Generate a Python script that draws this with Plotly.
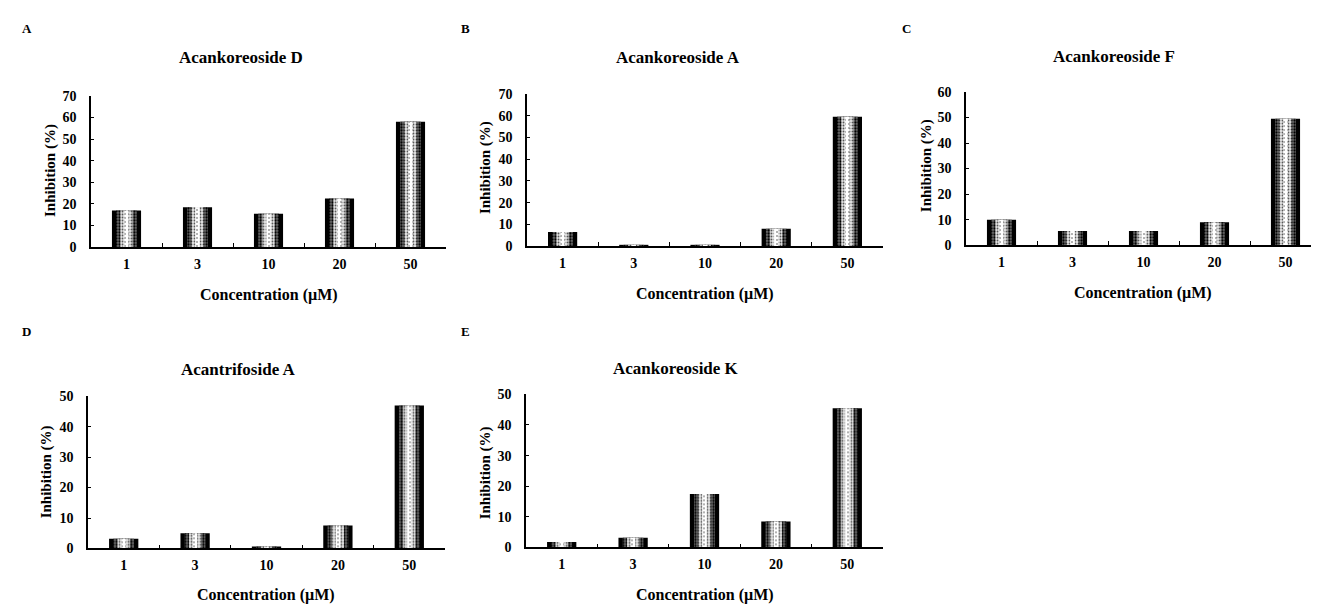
import plotly.graph_objects as go

categories = ["1", "3", "10", "20", "50"]

panel_letters = ["A", "B", "C", "D", "E"]
panel_titles = ["Acankoreoside D", "Acankoreoside A", "Acankoreoside F",
                "Acantrifoside A", "Acankoreoside K"]

inhib_A = [17.0, 18.5, 15.5, 22.5, 58.0]
inhib_B = [6.5, 0.6, 0.6, 8.0, 59.5]
inhib_C = [10.0, 5.5, 5.5, 9.0, 49.5]
inhib_D = [3.2, 5.0, 0.6, 7.5, 47.0]
inhib_E = [1.8, 3.2, 17.5, 8.5, 45.5]

y_max = [70, 70, 60, 50, 50]
y_dtick = [10, 10, 10, 10, 10]

series = [inhib_A, inhib_B, inhib_C, inhib_D, inhib_E]

W, H = 1319, 605

# panel plot areas in pixels: (x0, x1, ytop, ybottom)
areas = [
    (83, 438, 83, 238),
    (519, 875, 81, 237),
    (958, 1313, 79, 236),
    (80, 437, 391, 547),
    (518, 875, 389, 546),
]
title_pos = [(233, 44), (670, 44), (1106, 43), (230, 363), (668, 362)]
letter_pos = [(12, 14), (451, 14), (892, 14), (12, 325), (451, 325)]
ytitle_pos = [(42, 160), (477, 157), (918, 155), (38, 469), (477, 470)]
xtitle_pos = [(261, 287), (697, 286), (1135, 285), (258, 595), (697, 595)]

FONT = "Liberation Serif"

fig = go.Figure()
annotations = []

def px(x):
    return x / W

def py(y):
    return 1 - y / H

layers = [
    dict(width=0.41, color="#000000", pattern=None),
    dict(width=0.29, color="#3a3a3a", pattern=dict(shape=".", fgcolor="#000000", bgcolor="#707070", size=3, solidity=0.45)),
    dict(width=0.17, color="#cfcfcf", pattern=dict(shape=".", fgcolor="#555555", bgcolor="#e6e6e6", size=3, solidity=0.3)),
    dict(width=0.06, color="#ffffff", pattern=dict(shape=".", fgcolor="#999999", bgcolor="#ffffff", size=4, solidity=0.2)),
]

for i, vals in enumerate(series):
    n = i + 1
    xa = "x" if n == 1 else f"x{n}"
    ya = "y" if n == 1 else f"y{n}"
    for lay in layers:
        marker = dict(color=lay["color"], line=dict(width=0))
        if lay["pattern"] is not None:
            marker["pattern"] = dict(lay["pattern"], fillmode="replace")
        fig.add_trace(go.Bar(
            x=categories, y=vals, xaxis=xa, yaxis=ya,
            width=[lay["width"]] * len(categories),
            marker=marker, showlegend=False, hoverinfo="skip",
        ))
    x0, x1, yt, yb = areas[i]
    xkey = "xaxis" if n == 1 else f"xaxis{n}"
    ykey = "yaxis" if n == 1 else f"yaxis{n}"
    fig.layout[xkey] = dict(
        domain=[px(x0), px(x1)], anchor=ya, type="category",
        categoryorder="array", categoryarray=categories,
        range=[-0.5, 4.5], showline=True, linecolor="black", linewidth=1.5,
        ticks="inside", tickson="boundaries", ticklen=4, tickcolor="black",
        showgrid=False, zeroline=False, ticklabelstandoff=3,
        tickfont=dict(family=FONT, size=14, color="black", weight="bold"),
    )
    fig.layout[ykey] = dict(
        domain=[py(yb), py(yt)], anchor=xa, range=[0, y_max[i]],
        dtick=y_dtick[i], showline=True, linecolor="black", linewidth=1.5,
        ticks="inside", ticklen=3, tickcolor="black", showgrid=False,
        zeroline=False, ticklabelstandoff=10,
        tickfont=dict(family=FONT, size=14, color="black", weight="bold"),
    )
    tx, ty = title_pos[i]
    annotations.append(dict(x=px(tx), y=py(ty), xref="paper", yref="paper",
                            text=panel_titles[i], showarrow=False,
                            xanchor="center", yanchor="middle",
                            font=dict(family=FONT, size=17, color="black", weight="bold")))
    lx, ly = letter_pos[i]
    annotations.append(dict(x=px(lx), y=py(ly), xref="paper", yref="paper",
                            text=panel_letters[i], showarrow=False,
                            xanchor="left", yanchor="middle",
                            font=dict(family=FONT, size=13, color="black", weight="bold")))
    yx, yy = ytitle_pos[i]
    annotations.append(dict(x=px(yx), y=py(yy), xref="paper", yref="paper",
                            text="Inhibition (%)", showarrow=False, textangle=-90,
                            xanchor="center", yanchor="middle",
                            font=dict(family=FONT, size=15, color="black", weight="bold")))
    xx, xy = xtitle_pos[i]
    annotations.append(dict(x=px(xx), y=py(xy), xref="paper", yref="paper",
                            text="Concentration (µM)", showarrow=False,
                            xanchor="center", yanchor="middle",
                            font=dict(family=FONT, size=16, color="black", weight="bold")))

fig.update_layout(
    width=W, height=H, margin=dict(l=0, r=0, t=0, b=0),
    paper_bgcolor="white", plot_bgcolor="white",
    barmode="overlay", annotations=annotations,
    font=dict(family=FONT, color="black"),
)

fig.write_html("out.html")
